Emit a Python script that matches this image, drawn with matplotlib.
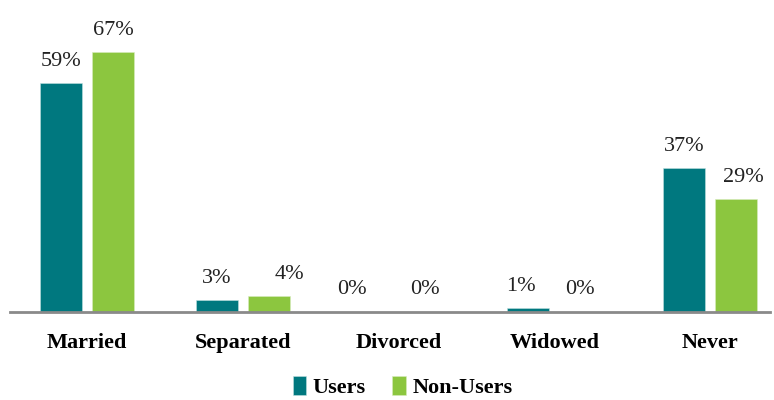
import numpy as np
import matplotlib.pyplot as plt

plt.rcParams['font.family'] = ['Liberation Serif', 'DejaVu Serif']

categories = ['Married', 'Separated', 'Divorced', 'Widowed', 'Never']
users = [59, 3, 0, 1, 37]
non_users = [67, 4, 0, 0, 29]

teal = '#00787f'
green = '#8cc63f'

fig = plt.figure(figsize=(7.74, 4.0), dpi=100)
ax = fig.add_axes([0.013, 0.22, 0.982, 0.776])

x = np.arange(len(categories))
w = 0.27
off = 0.167
b1 = ax.bar(x - off, users, w, color=teal, label='Users', edgecolor='#bfe0e0', linewidth=0.4)
b2 = ax.bar(x + off, non_users, w, color=green, label='Non-Users', edgecolor='#d8ecc0', linewidth=0.4)

# small horizontal nudges (points) for a few labels: (series, category) -> dx
nudge = {(0, 2): -15, (0, 3): -5, (1, 1): 15, (1, 4): 5}
for s, (bars, vals) in enumerate(((b1, users), (b2, non_users))):
    for i, (rect, v) in enumerate(zip(bars, vals)):
        dx = nudge.get((s, i), 0)
        ax.annotate(f'{v}%', (rect.get_x() + rect.get_width() / 2, rect.get_height()),
                    xytext=(dx, 9), textcoords='offset points',
                    ha='center', va='bottom', fontsize=16, color='#222222')

ax.set_xlim(-0.494, 4.385)
ax.set_ylim(0, 80)
ax.set_yticks([])
ax.set_xticks(x)
ax.set_xticklabels(categories, fontsize=16, fontweight='bold')
ax.tick_params(axis='x', length=0, pad=15)
for s in ('top', 'right', 'left'):
    ax.spines[s].set_visible(False)
ax.spines['bottom'].set_color('#8a8a8a')
ax.spines['bottom'].set_linewidth(2)

fig.legend(handles=[b1, b2], loc='lower center', bbox_to_anchor=(0.52, -0.045), ncol=2,
           frameon=False, prop={'size': 16, 'weight': 'bold'},
           handlelength=0.6, handleheight=0.9, handletextpad=0.3, columnspacing=1.2)

fig.savefig('out.png', dpi=100)
